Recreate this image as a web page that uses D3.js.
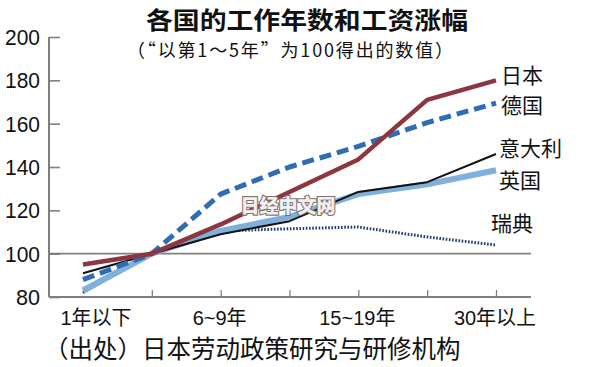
<!DOCTYPE html>
<html>
<head>
<meta charset="utf-8">
<script src="https://cdn.jsdelivr.net/npm/d3@7"></script>
<style>
  html, body { margin: 0; padding: 0; background: #fff; }
  svg { display: block; }
  text { font-family: "Liberation Sans", "Noto Sans CJK SC", sans-serif; }
</style>
</head>
<body>
<svg id="chart" width="600" height="367"></svg>
<script>
const categories = ["1年以下", "1～5年", "6～9年", "10～14年", "15～19年", "20～29年", "30年以上"];
const tickLabels = ["1年以下", "6~9年", "15~19年", "30年以上"];
const tickLabelCats = ["1年以下", "6～9年", "15～19年", "30年以上"];
const yTicks = [80, 100, 120, 140, 160, 180, 200];

const japan   = [95, 100, 113.5, 128.5, 143.5, 171, 180];
const germany = [88, 100, 127.5, 140, 149.5, 160.5, 169.5];
const italy   = [91, 100, 109, 115, 128.5, 133, 146];
const uk      = [83, 100, 110.5, 117, 127.5, 132, 138.5];
const sweden  = [82, 100, 110.5, 111.5, 112.3, 107.7, 104];

const seriesNames = ["瑞典", "英国", "意大利", "德国", "日本"];

const svg = d3.select("#chart");

const x = d3.scalePoint().domain(categories).range([83, 496]);
const y = d3.scaleLinear().domain([80, 200]).range([297, 37]);
const axisColor = "#7f7f7f";
const axisLeftX = 49, axisRightX = 531;

// Title
svg.append("text").attr("x", 307).attr("y", 29).attr("text-anchor", "middle")
  .style("font-family", "'Noto Sans CJK SC', sans-serif")
  .style("font-weight", "bold").style("font-size", "24px").attr("fill", "#111")
  .attr("textLength", 322).attr("lengthAdjust", "spacingAndGlyphs")
  .text("各国的工作年数和工资涨幅");
svg.append("text").attr("x", 290).attr("y", 57).attr("text-anchor", "middle")
  .style("font-family", "'Noto Sans CJK SC', sans-serif")
  .style("font-size", "18px").attr("fill", "#111")
  .attr("textLength", 326).attr("lengthAdjust", "spacing")
  .text("（“以第1～5年”为100得出的数值）");

// Y axis
const yAxis = d3.axisRight(y).tickValues(yTicks).tickSize(11).tickFormat("");
const gy = svg.append("g").attr("transform", `translate(${axisLeftX},0)`).call(yAxis);
gy.select(".domain").attr("stroke", axisColor).attr("stroke-width", 2).attr("d", `M0,${y(200)}V${y(80)}`);
gy.selectAll(".tick line").attr("stroke", axisColor).attr("stroke-width", 1.6);

// Y labels
svg.append("g").selectAll("text").data(yTicks).join("text")
  .attr("x", 40).attr("y", d => y(d) + 8).attr("text-anchor", "end")
  .style("font-size", "22px").attr("fill", "#111")
  .attr("textLength", d => String(d).length === 3 ? 35 : 24)
  .attr("lengthAdjust", "spacingAndGlyphs")
  .text(d => d);

// 100 reference line
svg.append("line").attr("x1", axisLeftX).attr("x2", axisRightX)
  .attr("y1", y(100)).attr("y2", y(100)).attr("stroke", axisColor).attr("stroke-width", 1.6);

// X axis
const xTickCats = categories.slice(1);
const xAxis = d3.axisTop(x).tickValues(xTickCats).tickSize(7).tickFormat("");
const gx = svg.append("g").attr("transform", `translate(0,${y(80)})`).call(xAxis);
gx.select(".domain").attr("stroke", axisColor).attr("stroke-width", 2).attr("d", `M${axisLeftX},0H${axisRightX}`);
gx.selectAll(".tick line").attr("stroke", axisColor).attr("stroke-width", 1.3);

svg.append("g").selectAll("text").data(tickLabelCats).join("text")
  .attr("x", (d, i) => x(d) + (i === 0 ? 13 : -1)).attr("y", 325).attr("text-anchor", "middle")
  .style("font-size", "20px").attr("fill", "#111")
  .text((d, i) => tickLabels[i]);

// Lines
const line = d3.line().x((d, i) => x(categories[i])).y(d => y(d));
const series = [
  { name: "瑞典", values: sweden, color: "#1e3d6e", width: 3, dash: "1.6,1.6" },
  { name: "英国", values: uk, color: "#7fb0dc", width: 6, dash: null },
  { name: "意大利", values: italy, color: "#111111", width: 2, dash: null },
  { name: "德国", values: germany, color: "#2f6db3", width: 5, dash: "12,6" },
  { name: "日本", values: japan, color: "#8c3640", width: 4.5, dash: null }
];
svg.append("g").selectAll("path").data(series).join("path")
  .attr("d", d => line(d.values)).attr("fill", "none")
  .attr("stroke", d => d.color).attr("stroke-width", d => d.width)
  .attr("stroke-dasharray", d => d.dash).attr("stroke-linejoin", "round");

// Series labels
const labelPos = { "日本": [501, 83], "德国": [501, 113], "意大利": [499, 156], "英国": [499, 188], "瑞典": [491, 231] };
svg.append("g").selectAll("text").data(seriesNames).join("text")
  .attr("x", d => labelPos[d][0]).attr("y", d => labelPos[d][1])
  .style("font-family", "'Noto Sans CJK SC', sans-serif")
  .style("font-size", "21px").attr("fill", "#111")
  .text(d => d);

// Watermark
svg.append("text").attr("x", 288).attr("y", 213).attr("text-anchor", "middle")
  .style("font-family", "'Noto Sans CJK SC', sans-serif")
  .style("font-weight", "900").style("font-size", "19px")
  .attr("fill", "#f4f0f0").attr("stroke", "#7f7475").attr("stroke-width", 2.2)
  .attr("paint-order", "stroke")
  .text("日经中文网");

// Source
svg.append("text").attr("x", 44).attr("y", 358)
  .style("font-family", "'Noto Sans CJK SC', sans-serif")
  .style("font-size", "24.5px").attr("fill", "#111")
  .text("（出处）日本劳动政策研究与研修机构");
</script>
</body>
</html>
